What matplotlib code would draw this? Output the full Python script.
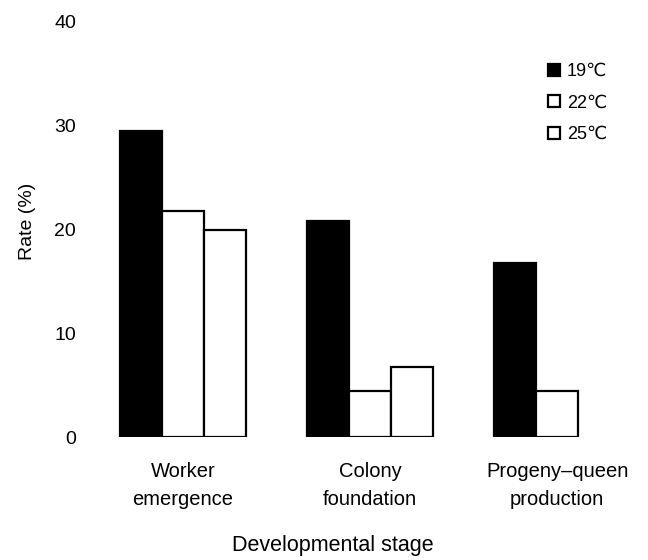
import matplotlib
matplotlib.use("Agg")
import matplotlib.pyplot as plt
import numpy as np

plt.rcParams['font.family'] = ['Liberation Sans', 'DejaVu Sans']

categories = ["Worker\nemergence", "Colony\nfoundation", "Progeny\u2013queen\nproduction"]
series_labels = ["19\u2103", "22\u2103", "25\u2103"]
rate_19 = [29.5, 20.8, 16.8]
rate_22 = [21.8, 4.4, 4.4]
rate_25 = [20.0, 6.7, 0.0]
yticks = [0, 10, 20, 30, 40]

fig = plt.figure(figsize=(6.48, 5.6), dpi=100)
ax = fig.add_axes([108/648, 1-437/560, (632-108)/648, (437-22)/560])

x = np.arange(len(categories))
w = 0.224
faces = ["black", "white", "white"]
handles = []
for i, (vals, lab, fc) in enumerate(zip([rate_19, rate_22, rate_25], series_labels, faces)):
    xs = x + (i - 1) * w
    keep = [j for j, v in enumerate(vals) if v > 0]
    b = ax.bar(xs[keep], [vals[j] for j in keep], width=w, color=fc, edgecolor="black", linewidth=1.6, label=lab)
    handles.append(b)

ax.set_xlim(-0.4, 2.4)
ax.set_ylim(0, 40)
ax.set_yticks(yticks)
ax.set_xticks(x)
ax.set_xticklabels(categories, fontsize=14.5, linespacing=1.6)
ax.tick_params(axis='y', length=0, pad=23, labelsize=14)
ax.tick_params(axis='x', length=0, pad=18)
for s in ax.spines.values():
    s.set_visible(False)

ax.set_ylabel("Rate (%)", fontsize=14, va='center')
ax.yaxis.set_label_coords(-(108-28)/524, (437-221)/415)
ax.set_xlabel("Developmental stage", fontsize=15.5, va='center')
ax.xaxis.set_label_coords((333-108)/524, -(545-437)/415)

leg = ax.legend(handles=handles, loc='upper left', bbox_to_anchor=(548/648, 1-63/560),
                bbox_transform=fig.transFigure, frameon=False, fontsize=13,
                handlelength=0.65, handleheight=0.65, handletextpad=0.4,
                labelspacing=0.8, borderpad=0, borderaxespad=0)

fig.savefig("out.png", dpi=100)
